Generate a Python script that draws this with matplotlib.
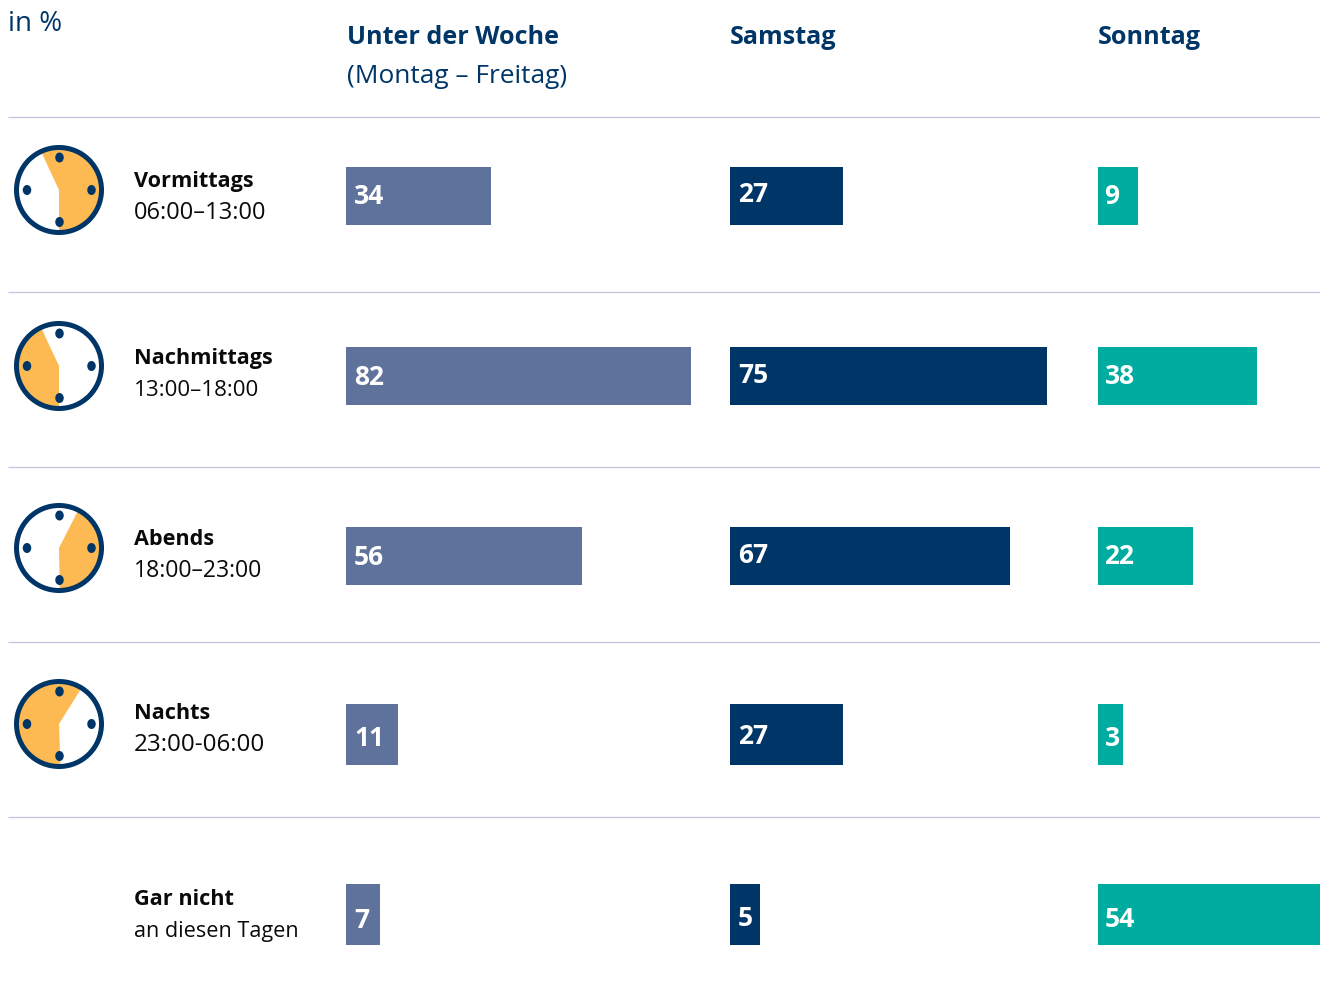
import matplotlib
matplotlib.use('Agg')
import matplotlib.pyplot as plt
from matplotlib.patches import Wedge, Circle, Ellipse

plt.rcParams['font.family'] = ['Open Sans', 'DejaVu Sans']

# werte wie beschriftet
week = [34, 82, 56, 11, 7]
saturday = [27, 75, 67, 27, 5]
sunday = [9, 38, 22, 3, 54]

# gezeichnete balkenlaengen, kleine balken sind im bild breiter als ihr wert
week_len = [34.5, 82.1, 56.2, 12.4, 8.1]
saturday_len = [26.9, 75.5, 66.7, 26.9, 7.1]
sunday_len = [9.5, 37.9, 22.6, 6.0, 52.9]

row_names = ['Vormittags', 'Nachmittags', 'Abends', 'Nachts', 'Gar nicht']
row_times = ['06:00–13:00', '13:00–18:00', '18:00–23:00', '23:00-06:00', 'an diesen Tagen']
col_names = ['Unter der Woche', 'Samstag', 'Sonntag']
col_sub = '(Montag – Freitag)'

# orange flaeche der uhren, grad im uhrzeigersinn ab 12
clock_from = [-25, 180, 27, 178]
clock_to = [180, 335, 179, 392]

NAVY = '#003567'
SLATE = '#5F729B'
TEAL = '#00AC9F'
ORANGE = '#FDB952'
RULE = '#C3C7DE'
W, H = 1320, 989
PX = 0.72  # pixel nach punkt bei dpi 100

fig = plt.figure(figsize=(13.2, 9.89), dpi=100)
bg = fig.add_axes([0, 0, 1, 1])
bg.set_xlim(0, W)
bg.set_ylim(H, 0)
bg.axis('off')

for y in [117, 292, 467, 642, 817]:
    bg.plot([8, W], [y, y], color=RULE, lw=1.3 * PX, solid_capstyle='butt')

bg.text(8, 31, 'in %', color=NAVY, fontsize=20)
for x, name in zip([347, 730, 1098], col_names):
    bg.text(x, 44, name, color=NAVY, fontsize=18.1, fontweight='bold')
bg.text(347, 83, col_sub, color=NAVY, fontsize=18.9)

name_y = [187, 364, 545, 719, 905]
time_y = [219, 396, 577, 751, 937]
time_size = [17, 16.1, 16.6, 17.4, 15.6]
for i in range(5):
    bg.text(134, name_y[i], row_names[i], color='#0A0A0A', fontsize=15.6, fontweight='bold')
    bg.text(134, time_y[i], row_times[i], color='#0A0A0A', fontsize=time_size[i])

clock_y = [190, 366, 548, 724]
for cy, a0, a1 in zip(clock_y, clock_from, clock_to):
    # y-achse ist umgedreht, darum laufen die winkel hier im uhrzeigersinn
    bg.add_patch(Wedge((59, cy), 41, a0 - 90, a1 - 90, fc=ORANGE, ec='none'))
    bg.add_patch(Circle((59, cy), 42.5, fc='none', ec=NAVY, lw=5 * PX))
    for dx, dy in [(0.5, -32.5), (32.5, 0), (-32, 0), (0.5, 32)]:
        bg.add_patch(Ellipse((59 + dx, cy + dy), 8.5, 10, fc=NAVY, ec='none'))

bar_y = [196, 376, 556, 734.5, 914.5]
bar_h = [58, 58, 58, 61, 61]
label_shift = [0, 1, 1, 4, 5]
columns = [
    (346, 346, week, week_len, SLATE, 8, 8),
    (730, 326, saturday, saturday_len, NAVY, 8, 6),
    (1098, 222, sunday, sunday_len, TEAL, 6.5, 7.5),
]
for left, width, values, lengths, color, pad, drop in columns:
    ax = fig.add_axes([left / W, 0, width / W, 1])
    ax.set_xlim(0, width / 4.2)
    ax.set_ylim(H, 0)
    ax.axis('off')
    ax.patch.set_alpha(0)
    ax.barh(bar_y, lengths, height=bar_h, color=color, linewidth=0)
    for y, v, s in zip(bar_y, values, label_shift):
        ax.annotate(str(v), (0, y), xytext=(pad * PX, -(drop + s) * PX), textcoords='offset points',
                    color='white', fontsize=19, fontweight='bold', va='baseline', ha='left',
                    annotation_clip=False)

fig.savefig('out.png', dpi=100)
